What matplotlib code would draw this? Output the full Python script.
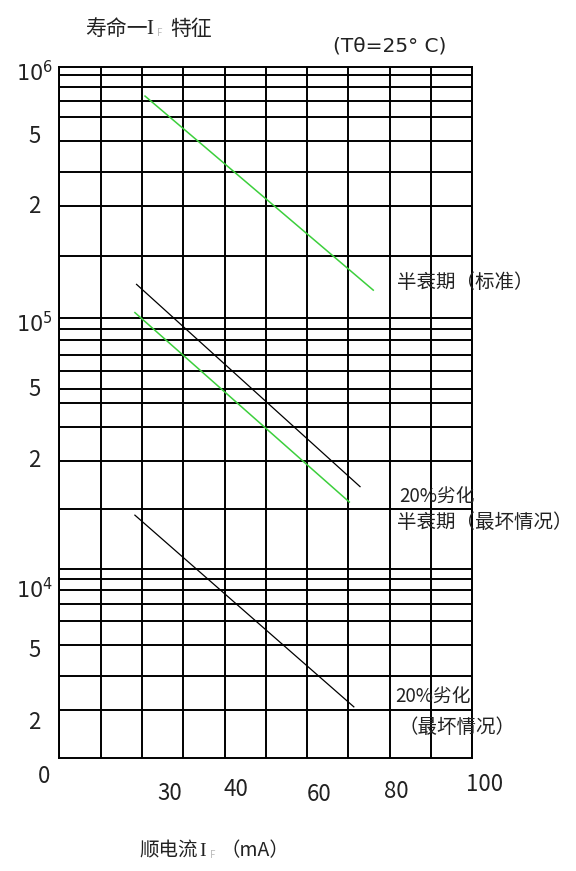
import matplotlib
matplotlib.use('Agg')
import matplotlib.pyplot as plt
import matplotlib.transforms as mtransforms
from matplotlib.ticker import NullLocator

plt.rcParams['font.family'] = ['Noto Sans CJK SC', 'DejaVu Sans']

# --- data ---
# horizontal grid lines of the log paper (life, hours)
hgrid = [9.29e5, 8.32e5, 7.30e5, 6.31e5, 5.06e5, 3.80e5, 2.79e5, 1.76e5,
         1.0e5, 9.03e4, 8.17e4, 7.12e4, 6.13e4, 5.20e4, 4.60e4, 3.69e4, 2.70e4, 1.73e4,
         1.0e4, 9.11e3, 8.26e3, 7.24e3, 6.22e3, 4.99e3, 3.75e3, 2.75e3]
vgrid = [0, 10, 20, 30, 40, 50, 60, 70, 80, 90, 100]

ytick_vals = [9.57e5, 5.42e5, 2.83e5, 9.63e4, 5.31e4, 2.76e4, 8.41e3, 4.85e3, 2.51e3]
ytick_labels = ['$10^6$', '5', '2', '$10^5$', '5', '2', '$10^4$', '5', '2']

xtick_labels = ['0', '30', '40', '60', '80', '100']
xtick_pos = [-3.8, 26.7, 42.8, 62.9, 81.7, 103.0]
xtick_drop = [0.0263, 0.0502, 0.0444, 0.0530, 0.0473, 0.0372]  # below axis, axes fraction

# curves: forward current (mA) vs life
green_std_x = [20.75, 76.0]
green_std_y = [7.64e5, 1.29e5]
black_upper_x = [18.7, 72.8]
black_upper_y = [1.36e5, 2.13e4]
green_worst_x = [18.3, 70.2]
green_worst_y = [1.05e5, 1.85e4]
black_lower_x = [18.3, 71.3]
black_lower_y = [1.64e4, 2.83e3]

W, H = 576, 871
fig = plt.figure(figsize=(W / 100, H / 100), dpi=100)
ax = fig.add_axes([59.3 / W, 1 - 758.3 / H, 413.1 / W, 691.6 / H])

ax.set_yscale('log')
ax.set_xlim(0, 100)
ax.set_ylim(1766, 1e6)
ax.yaxis.set_minor_locator(NullLocator())

grid_kw = dict(color='black', lw=1.4, zorder=1)
for v in hgrid:
    ax.axhline(v, **grid_kw)
for x in vgrid:
    ax.axvline(x, **grid_kw)
for s in ax.spines.values():
    s.set_linewidth(1.4)
    s.set_color('black')

green = '#3ccf3c'
ax.plot(green_std_x, green_std_y, color=green, lw=1.1, zorder=3)
ax.plot(black_upper_x, black_upper_y, color='black', lw=0.9, zorder=3)
ax.plot(green_worst_x, green_worst_y, color=green, lw=1.1, zorder=3)
ax.plot(black_lower_x, black_lower_y, color='black', lw=0.9, zorder=3)

# y tick labels
ax.set_yticks(ytick_vals, labels=ytick_labels)
ax.tick_params(axis='y', length=0, pad=18, labelsize=16)
for lab in ax.get_yticklabels():
    lab.set_ha('center')
    lab.set_color('#222222')
    if lab.get_text().startswith('$'):
        lab.set_fontsize(15)

# x tick labels (scattered as in the original)
ax.set_xticks([])
trans = mtransforms.blended_transform_factory(ax.transData, ax.transAxes)
for lab, xp, dy in zip(xtick_labels, xtick_pos, xtick_drop):
    ax.text(xp, -dy, lab, transform=trans, ha='center', va='center',
            fontsize=16, color='#222222', clip_on=False)


def ftext(px, py, s, **kw):
    kw.setdefault('va', 'center')
    kw.setdefault('ha', 'left')
    kw.setdefault('color', '#222222')
    fig.text(px / W, 1 - py / H, s, **kw)


# title
ftext(85, 29, '寿命一', fontsize=15)
ftext(146, 29, 'I', fontsize=15, family='Liberation Serif')
ftext(157, 33, 'F', fontsize=7, color='#bbbbbb')
ftext(170, 29, '特征', fontsize=15)
ftext(333, 46, '(Tθ=25° C)', fontsize=14.5, family='DejaVu Sans')

# curve labels
ftext(397, 282, '半衰期（标准）', fontsize=14)
ftext(399, 497, '20%劣化', fontsize=13.5)
ftext(397, 523, '半衰期（最坏情况）', fontsize=14)
ftext(395, 697, '20%劣化', fontsize=13.5)
ftext(398, 727, '（最坏情况）', fontsize=14)

# x axis title
ftext(139, 851, '顺电流', fontsize=14)
ftext(199, 851, 'I', fontsize=14, family='Liberation Serif')
ftext(210, 855, 'F', fontsize=7, color='#bbbbbb')
ftext(220, 851, '（mA）', fontsize=14)

fig.savefig('out.png', dpi=100)
